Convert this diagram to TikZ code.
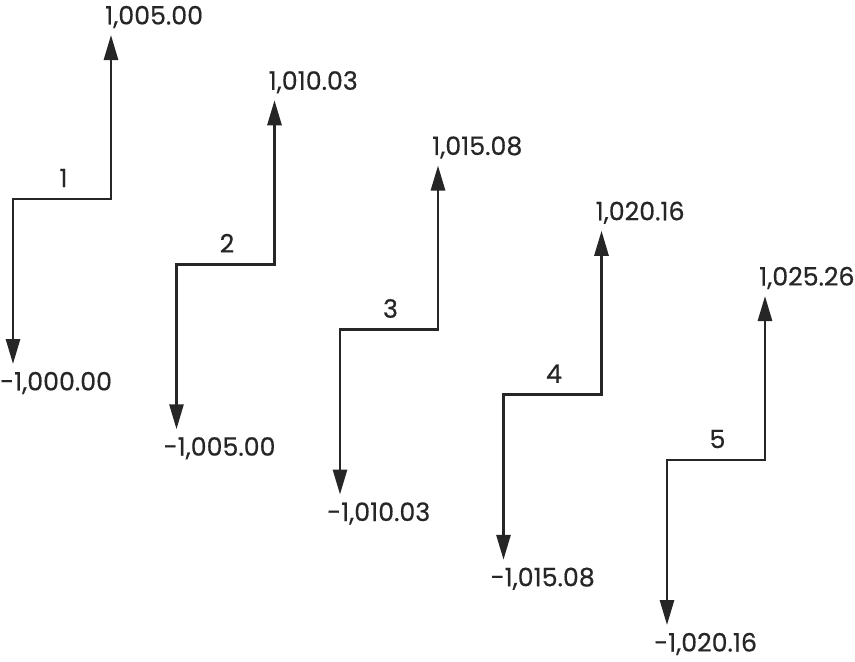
\documentclass[tikz,border=0pt]{standalone}
\usepackage{fontspec}
\setmainfont{Poppins}[FakeBold=0.5]
\usetikzlibrary{arrows.meta,calc}
\begin{document}
\begin{tikzpicture}[x=1pt,y=-1pt,
  flow/.style={line width=2.8pt,draw=black!85,-{Triangle[length=25pt,width=14pt]}},
  rung/.style={line width=2.8pt,draw=black!85,line cap=rect},
  amount/.style={font=\fontsize{25.3}{27}\selectfont,text=black!85,inner sep=0pt},
  period/.style={font=\fontsize{25.3}{27}\selectfont,text=black!85,inner sep=0pt}]
\useasboundingbox (0,0) rectangle (855,662);
\foreach \i/\top/\bot in {1/{1,005.00}/{-1,000.00},2/{1,010.03}/{-1,005.00},3/{1,015.08}/{-1,010.03},4/{1,020.16}/{-1,015.08},5/{1,025.26}/{-1,020.16}}{
  \pgfmathsetmacro{\xl}{13+163.5*(\i-1)}
  \pgfmathsetmacro{\xr}{111+163.5*(\i-1)}
  \pgfmathsetmacro{\yy}{199+65.25*(\i-1)}
  \coordinate (L\i) at (\xl,\yy);
  \coordinate (R\i) at (\xr,\yy);
  \coordinate (T\i) at (\xr,\yy-164);
  \coordinate (B\i) at (\xl,\yy+165);
  \node[period] (N\i) at ($(L\i)!0.5!(R\i)+(1.5,-21)$) {\i};
  \node[amount,anchor=west] (U\i) at ($(T\i)+(-6,-18)$) {\top};
  \node[amount,anchor=west] (D\i) at ($(B\i)+(-13,19)$) {\bot};
  \draw[rung] (L\i) -- (R\i);
  \draw[flow] (R\i) -- (T\i);
  \draw[flow] (L\i) -- (B\i);
}
\end{tikzpicture}
\end{document}
